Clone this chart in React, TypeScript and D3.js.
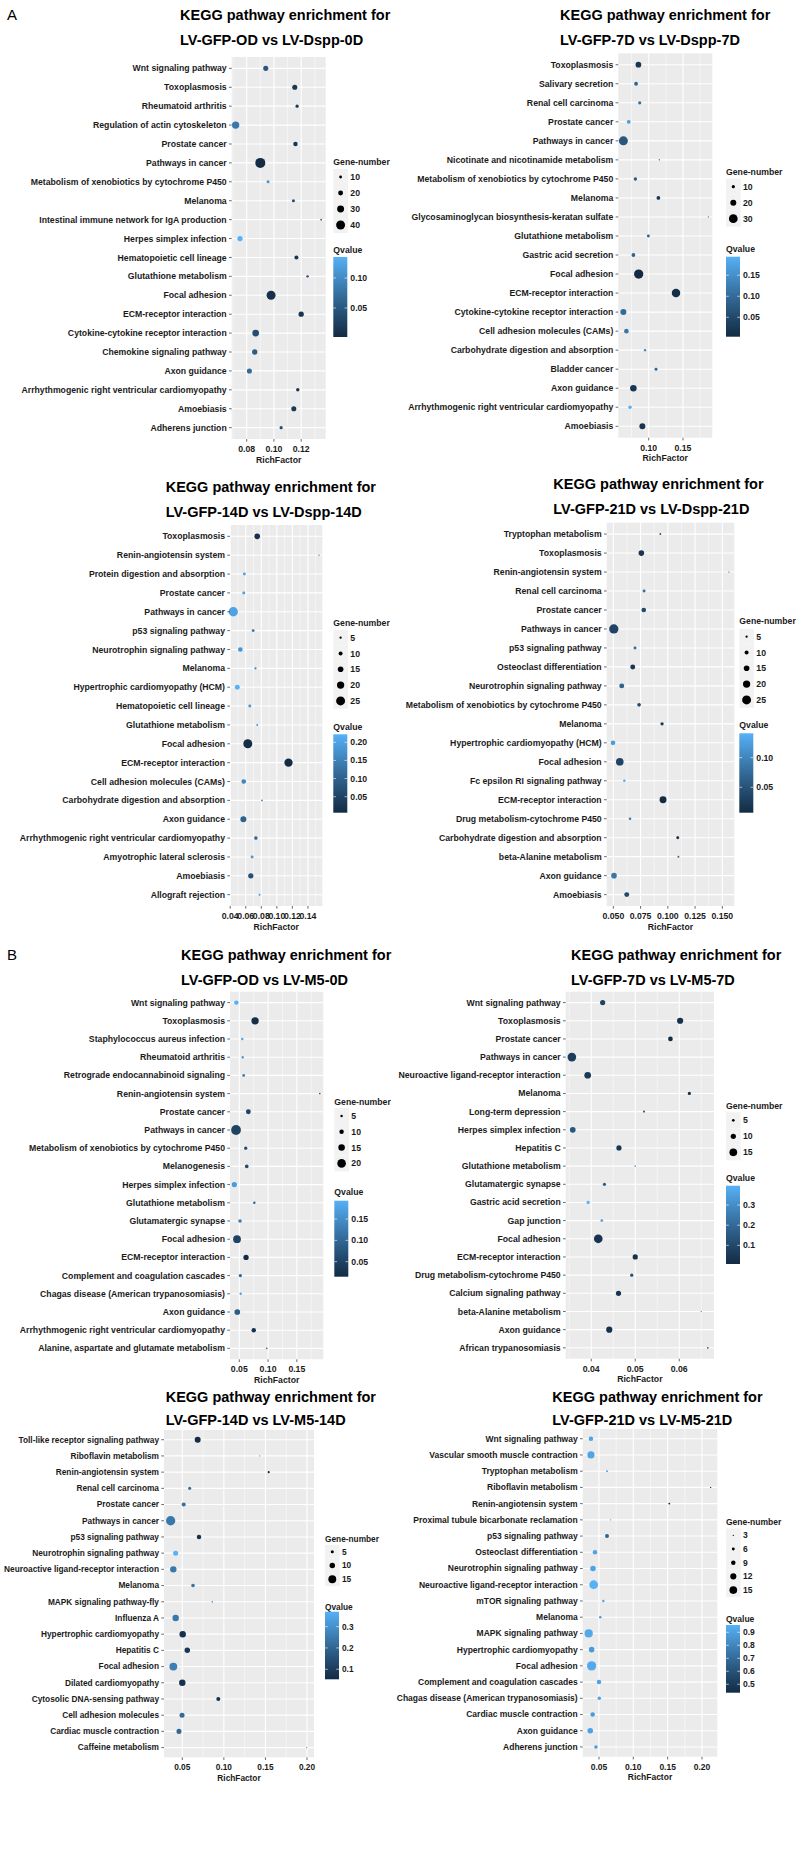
import React from "react";
import * as d3 from "d3";

// ---------- Panel 1: LV-GFP-OD vs LV-Dspp-0D ----------
const p1Title = ["KEGG pathway enrichment for", "LV-GFP-OD vs LV-Dspp-0D"];
const p1Pathways = ["Wnt signaling pathway","Toxoplasmosis","Rheumatoid arthritis","Regulation of actin cytoskeleton","Prostate cancer","Pathways in cancer","Metabolism of xenobiotics by cytochrome P450","Melanoma","Intestinal immune network for IgA production","Herpes simplex infection","Hematopoietic cell lineage","Glutathione metabolism","Focal adhesion","ECM-receptor interaction","Cytokine-cytokine receptor interaction","Chemokine signaling pathway","Axon guidance","Arrhythmogenic right ventricular cardiomyopathy","Amoebiasis","Adherens junction"];
const p1Rich = [0.094,0.1153,0.117,0.0719,0.1158,0.090,0.0957,0.1143,0.1347,0.0751,0.1165,0.1247,0.0979,0.12,0.0866,0.0859,0.082,0.1175,0.1146,0.1053];
const p1Genes = [21,21,12,32,18,45,11,11,5,22,16,8,40,22,29,22,21,13,21,12];
const p1Q = [0.048,0.015,0.015,0.082,0.015,0.0017,0.108,0.04,0.055,0.135,0.015,0.04,0.008,0.012,0.04,0.055,0.068,0.015,0.017,0.04];
const p1Ticks = [0.08, 0.10, 0.12];
const p1SizeBreaks = [10, 20, 30, 40];
const p1QBreaks = [0.05, 0.10];

// ---------- Panel 2: LV-GFP-7D vs LV-Dspp-7D ----------
const p2Title = ["KEGG pathway enrichment for", "LV-GFP-7D vs LV-Dspp-7D"];
const p2Pathways = ["Toxoplasmosis","Salivary secretion","Renal cell carcinoma","Prostate cancer","Pathways in cancer","Nicotinate and nicotinamide metabolism","Metabolism of xenobiotics by cytochrome P450","Melanoma","Glycosaminoglycan biosynthesis-keratan sulfate","Glutathione metabolism","Gastric acid secretion","Focal adhesion","ECM-receptor interaction","Cytokine-cytokine receptor interaction","Cell adhesion molecules (CAMs)","Carbohydrate digestion and absorption","Bladder cancer","Axon guidance","Arrhythmogenic right ventricular cardiomyopathy","Amoebiasis"];
const p2Rich = [0.085,0.0816,0.0869,0.0709,0.0631,0.1155,0.0806,0.1141,0.187,0.0995,0.0777,0.0854,0.1398,0.0631,0.0675,0.0947,0.1107,0.0777,0.0728,0.0908];
const p2Genes = [19,12,10,12,31,4,11,12,3,9,12,32,29,20,15,7,9,22,11,20];
const p2Q = [0.023,0.09,0.108,0.165,0.07,0.146,0.08,0.023,0.118,0.09,0.09,0.0038,0.008,0.099,0.118,0.137,0.09,0.023,0.194,0.019];
const p2Ticks = [0.10, 0.15];
const p2SizeBreaks = [10, 20, 30];
const p2QBreaks = [0.05, 0.10, 0.15];

// ---------- Panel 3: LV-GFP-14D vs LV-Dspp-14D ----------
const p3Title = ["KEGG pathway enrichment for", "LV-GFP-14D vs LV-Dspp-14D"];
const p3Pathways = ["Toxoplasmosis","Renin-angiotensin system","Protein digestion and absorption","Prostate cancer","Pathways in cancer","p53 signaling pathway","Neurotrophin signaling pathway","Melanoma","Hypertrophic cardiomyopathy (HCM)","Hematopoietic cell lineage","Glutathione metabolism","Focal adhesion","ECM-receptor interaction","Cell adhesion molecules (CAMs)","Carbohydrate digestion and absorption","Axon guidance","Arrhythmogenic right ventricular cardiomyopathy","Amyotrophic lateral sclerosis","Amoebiasis","Allograft rejection"];
const p3Rich = [0.0747,0.1543,0.0582,0.0574,0.0439,0.0695,0.053,0.0725,0.0491,0.0652,0.0747,0.0626,0.115,0.0574,0.0808,0.0569,0.073,0.0682,0.0665,0.0777];
const p3Genes = [15,2,7,7,26,7,12,5,13,7,4,25,23,12,4,16,9,7,14,4];
const p3Q = [0.016,0.135,0.2,0.2,0.2,0.135,0.18,0.157,0.222,0.18,0.19,0.01,0.0058,0.157,0.18,0.1,0.11,0.19,0.07,0.18];
const p3Ticks = [0.04, 0.06, 0.08, 0.10, 0.12, 0.14];
const p3SizeBreaks = [5, 10, 15, 20, 25];
const p3QBreaks = [0.05, 0.10, 0.15, 0.20];

// ---------- Panel 4: LV-GFP-21D vs LV-Dspp-21D ----------
const p4Title = ["KEGG pathway enrichment for", "LV-GFP-21D vs LV-Dspp-21D"];
const p4Pathways = ["Tryptophan metabolism","Toxoplasmosis","Renin-angiotensin system","Renal cell carcinoma","Prostate cancer","Pathways in cancer","p53 signaling pathway","Osteoclast differentiation","Neurotrophin signaling pathway","Metabolism of xenobiotics by cytochrome P450","Melanoma","Hypertrophic cardiomyopathy (HCM)","Focal adhesion","Fc epsilon RI signaling pathway","ECM-receptor interaction","Drug metabolism-cytochrome P450","Carbohydrate digestion and absorption","beta-Alanine metabolism","Axon guidance","Amoebiasis"];
const p4Rich = [0.0931,0.0757,0.1561,0.0782,0.0779,0.0504,0.0699,0.0678,0.0577,0.0736,0.0947,0.0497,0.0559,0.0601,0.0956,0.0653,0.1091,0.1097,0.0506,0.0623];
const p4Genes = [4,15,2,7,12,26,7,13,13,9,8,12,21,6,19,6,7,4,15,13];
const p4Q = [0.06,0.02,0.074,0.08,0.04,0.034,0.074,0.02,0.067,0.04,0.02,0.121,0.034,0.141,0.0071,0.094,0.014,0.067,0.087,0.04];
const p4Ticks = [0.05, 0.075, 0.1, 0.125, 0.15];
const p4SizeBreaks = [5, 10, 15, 20, 25];
const p4QBreaks = [0.05, 0.10];

// ---------- Panel 5: LV-GFP-OD vs LV-M5-0D ----------
const p5Title = ["KEGG pathway enrichment for", "LV-GFP-OD vs LV-M5-0D"];
const p5Pathways = ["Wnt signaling pathway","Toxoplasmosis","Staphylococcus aureus infection","Rheumatoid arthritis","Retrograde endocannabinoid signaling","Renin-angiotensin system","Prostate cancer","Pathways in cancer","Metabolism of xenobiotics by cytochrome P450","Melanogenesis","Herpes simplex infection","Glutathione metabolism","Glutamatergic synapse","Focal adhesion","ECM-receptor interaction","Complement and coagulation cascades","Chagas disease (American trypanosomiasis)","Axon guidance","Arrhythmogenic right ventricular cardiomyopathy","Alanine, aspartate and glutamate metabolism"];
const p5Rich = [0.0448,0.0774,0.0552,0.0559,0.0576,0.190,0.0657,0.0443,0.0611,0.0629,0.0413,0.0761,0.0512,0.046,0.0617,0.0518,0.0524,0.0465,0.0751,0.0977];
const p5Genes = [10,17,5,5,6,3,11,23,7,8,12,5,8,18,12,7,5,13,10,3];
const p5Q = [0.193,0.02,0.175,0.166,0.13,0.05,0.05,0.05,0.06,0.06,0.166,0.086,0.13,0.05,0.0148,0.095,0.175,0.086,0.024,0.095];
const p5Ticks = [0.05, 0.10, 0.15];
const p5SizeBreaks = [5, 10, 15, 20];
const p5QBreaks = [0.05, 0.10, 0.15];

// ---------- Panel 6: LV-GFP-7D vs LV-M5-7D ----------
const p6Title = ["KEGG pathway enrichment for", "LV-GFP-7D vs LV-M5-7D"];
const p6Pathways = ["Wnt signaling pathway","Toxoplasmosis","Prostate cancer","Pathways in cancer","Neuroactive ligand-receptor interaction","Melanoma","Long-term depression","Herpes simplex infection","Hepatitis C","Glutathione metabolism","Glutamatergic synapse","Gastric acid secretion","Gap junction","Focal adhesion","ECM-receptor interaction","Drug metabolism-cytochrome P450","Calcium signaling pathway","beta-Alanine metabolism","Axon guidance","African trypanosomiasis"];
const p6Rich = [0.0426,0.0602,0.058,0.0356,0.0392,0.0623,0.052,0.0358,0.0463,0.05,0.043,0.0393,0.0424,0.0416,0.05,0.0492,0.0462,0.065,0.0441,0.0665];
const p6Genes = [10,12,9,17,13,6,4,11,10,3,6,6,5,17,10,6,10,2,12,3];
const p6Q = [0.085,0.027,0.0074,0.066,0.054,0.027,0.18,0.143,0.046,0.357,0.163,0.396,0.357,0.038,0.027,0.124,0.038,0.28,0.027,0.143];
const p6Ticks = [0.04, 0.05, 0.06];
const p6SizeBreaks = [5, 10, 15];
const p6QBreaks = [0.1, 0.2, 0.3];

// ---------- Panel 7: LV-GFP-14D vs LV-M5-14D ----------
const p7Title = ["KEGG pathway enrichment for", "LV-GFP-14D vs LV-M5-14D"];
const p7Pathways = ["Toll-like receptor signaling pathway","Riboflavin metabolism","Renin-angiotensin system","Renal cell carcinoma","Prostate cancer","Pathways in cancer","p53 signaling pathway","Neurotrophin signaling pathway","Neuroactive ligand-receptor interaction","Melanoma","MAPK signaling pathway-fly","Influenza A","Hypertrophic cardiomyopathy","Hepatitis C","Focal adhesion","Dilated cardiomyopathy","Cytosolic DNA-sensing pathway","Cell adhesion molecules","Cardiac muscle contraction","Caffeine metabolism"];
const p7Rich = [0.0685,0.1431,0.1539,0.0589,0.0517,0.036,0.0701,0.042,0.0392,0.0629,0.0861,0.042,0.0505,0.056,0.0392,0.05,0.0933,0.0497,0.046,0.1996];
const p7Genes = [11,1,3,5,7,18,8,9,12,6,2,12,12,10,15,12,7,9,9,1];
const p7Q = [0.053,0.307,0.055,0.227,0.227,0.243,0.069,0.37,0.243,0.227,0.307,0.243,0.069,0.085,0.259,0.069,0.069,0.21,0.21,0.243];
const p7Ticks = [0.05, 0.10, 0.15, 0.20];
const p7SizeBreaks = [5, 10, 15];
const p7QBreaks = [0.1, 0.2, 0.3];

// ---------- Panel 8: LV-GFP-21D vs LV-M5-21D ----------
const p8Title = ["KEGG pathway enrichment for", "LV-GFP-21D vs LV-M5-21D"];
const p8Pathways = ["Wnt signaling pathway","Vascular smooth muscle contraction","Tryptophan metabolism","Riboflavin metabolism","Renin-angiotensin system","Proximal tubule bicarbonate reclamation","p53 signaling pathway","Osteoclast differentiation","Neurotrophin signaling pathway","Neuroactive ligand-receptor interaction","mTOR signaling pathway","Melanoma","MAPK signaling pathway","Hypertrophic cardiomyopathy","Focal adhesion","Complement and coagulation cascades","Chagas disease (American trypanosomiasis)","Cardiac muscle contraction","Axon guidance","Adherens junction"];
const p8Rich = [0.0383,0.0383,0.0617,0.2126,0.1524,0.067,0.0617,0.0442,0.0413,0.0423,0.0563,0.0519,0.035,0.0393,0.0393,0.05,0.0505,0.0408,0.0373,0.0456];
const p8Genes = [9,14,4,3,4,3,8,9,11,17,5,5,16,11,18,9,7,9,11,7];
const p8Q = [0.904,0.914,0.878,0.461,0.435,0.878,0.67,0.904,0.904,0.956,0.904,0.852,0.93,0.878,0.93,0.904,0.904,0.878,0.904,0.878];
const p8Ticks = [0.05, 0.10, 0.15, 0.20];
const p8SizeBreaks = [3, 6, 9, 12, 15];
const p8QBreaks = [0.5, 0.6, 0.7, 0.8, 0.9];

const panelData = [
  { title: p1Title, pathways: p1Pathways, rich: p1Rich, genes: p1Genes, q: p1Q, ticks: p1Ticks, sizeBreaks: p1SizeBreaks, qBreaks: p1QBreaks },
  { title: p2Title, pathways: p2Pathways, rich: p2Rich, genes: p2Genes, q: p2Q, ticks: p2Ticks, sizeBreaks: p2SizeBreaks, qBreaks: p2QBreaks },
  { title: p3Title, pathways: p3Pathways, rich: p3Rich, genes: p3Genes, q: p3Q, ticks: p3Ticks, sizeBreaks: p3SizeBreaks, qBreaks: p3QBreaks },
  { title: p4Title, pathways: p4Pathways, rich: p4Rich, genes: p4Genes, q: p4Q, ticks: p4Ticks, sizeBreaks: p4SizeBreaks, qBreaks: p4QBreaks },
  { title: p5Title, pathways: p5Pathways, rich: p5Rich, genes: p5Genes, q: p5Q, ticks: p5Ticks, sizeBreaks: p5SizeBreaks, qBreaks: p5QBreaks },
  { title: p6Title, pathways: p6Pathways, rich: p6Rich, genes: p6Genes, q: p6Q, ticks: p6Ticks, sizeBreaks: p6SizeBreaks, qBreaks: p6QBreaks },
  { title: p7Title, pathways: p7Pathways, rich: p7Rich, genes: p7Genes, q: p7Q, ticks: p7Ticks, sizeBreaks: p7SizeBreaks, qBreaks: p7QBreaks },
  { title: p8Title, pathways: p8Pathways, rich: p8Rich, genes: p8Genes, q: p8Q, ticks: p8Ticks, sizeBreaks: p8SizeBreaks, qBreaks: p8QBreaks },
];

// ---------- layout (positions / styles) ----------
const layouts = [
  { left: 231.7, right: 325.7, top: 57, bottom: 439, xDom: [0.069, 0.138], titleX: 180, titleY: [19.5, 45], legX: 333.3, gTitleY: 162, keyY0: 177, keyStep: 16, qTitleY: 250, barTop: 257, barBottom: 337, dRange: [1.8, 10], font: 8.7, tickFmt: ".2f", qFmt: ".2f" },
  { left: 618.3, right: 712.3, top: 53.3, bottom: 437.7, xDom: [0.0557, 0.1927], titleX: 560, titleY: [19.5, 45], legX: 726, gTitleY: 172, keyY0: 186.7, keyStep: 16, qTitleY: 249, barTop: 256.7, barBottom: 336.7, dRange: [1.3, 9.3], font: 8.7, tickFmt: ".2f", qFmt: ".2f" },
  { left: 230, right: 322.3, top: 525, bottom: 906, xDom: [0.0397, 0.1585], titleX: 165.7, titleY: [492, 517], legX: 333.3, gTitleY: 622.7, keyY0: 637.7, keyStep: 15.8, qTitleY: 726.7, barTop: 734.3, barBottom: 812.7, dRange: [1.3, 9.3], font: 8.7, tickFmt: ".2f", qFmt: ".2f" },
  { left: 606.7, right: 734.3, top: 522.7, bottom: 906, xDom: [0.0439, 0.161], titleX: 553.3, titleY: [489, 514], legX: 739.3, gTitleY: 621, keyY0: 636.7, keyStep: 15.8, qTitleY: 725, barTop: 733.3, barBottom: 812.7, dRange: [1.3, 9.3], font: 8.7, tickFmt: ".3f", qFmt: ".2f" },
  { left: 230, right: 323.3, top: 991.7, bottom: 1359.3, xDom: [0.0338, 0.196], titleX: 181, titleY: [960, 985], legX: 334.3, gTitleY: 1101.7, keyY0: 1116, keyStep: 15.8, qTitleY: 1192.3, barTop: 1200.7, barBottom: 1276.7, dRange: [1.6, 9.8], font: 8.7, tickFmt: ".2f", qFmt: ".2f" },
  { left: 565.7, right: 714, top: 991.7, bottom: 1358.7, xDom: [0.0342, 0.0679], titleX: 571, titleY: [960, 985], legX: 726, gTitleY: 1105.7, keyY0: 1120.3, keyStep: 16, qTitleY: 1177.7, barTop: 1185.7, barBottom: 1264, dRange: [1.2, 8.7], font: 8.7, tickFmt: ".2f", qFmt: ".1f" },
  { left: 164, right: 314, top: 1430, bottom: 1757.3, xDom: [0.028, 0.2084], titleX: 165.7, titleY: [1402, 1425], legX: 325, gTitleY: 1539.3, keyY0: 1551.7, keyStep: 13.8, qTitleY: 1606.7, barTop: 1611.7, barBottom: 1679.3, dRange: [1.2, 9.3], font: 8.3, tickFmt: ".2f", qFmt: ".1f" },
  { left: 582.7, right: 717.3, top: 1429, bottom: 1756.7, xDom: [0.0263, 0.2223], titleX: 552.3, titleY: [1402, 1425], legX: 726, gTitleY: 1522.3, keyY0: 1535.3, keyStep: 13.7, qTitleY: 1618.7, barTop: 1625, barBottom: 1692.7, dRange: [1.3, 9.3], font: 8.5, tickFmt: ".2f", qFmt: ".1f" },
];

const FONT = "'Liberation Sans', Arial, Helvetica, sans-serif";
const TEXT = "#1a1a1a";

function Panel({ d, L, idx }: { d: any; L: any; idx: number }) {
  const x = d3.scaleLinear().domain(L.xDom).range([L.left, L.right]);
  const y = d3.scalePoint<string>().domain(d.pathways).range([L.top, L.bottom]).padding(0.6);
  const qExt = d3.extent(d.q as number[]) as [number, number];
  const gExt = d3.extent(d.genes as number[]) as [number, number];
  const color = d3.scaleLinear<string>().domain(qExt).range(["#132B43", "#56B1F7"]).interpolate(d3.interpolateLab);
  const size = d3.scaleLinear().domain(gExt).range(L.dRange);
  const qy = d3.scaleLinear().domain(qExt).range([L.barBottom, L.barTop]);
  const fmt = d3.format(L.tickFmt);
  const qfmt = d3.format(L.qFmt);
  const step = d.ticks[1] - d.ticks[0];
  const minor: number[] = [];
  for (let i = -1; i < d.ticks.length + 1; i++) {
    const v = d.ticks[0] + (i + 0.5) * step;
    if (v > L.xDom[0] && v < L.xDom[1]) minor.push(v);
  }
  const fs = L.font;
  const barW = 14;
  const gid = `qgrad${idx}`;
  return (
    <g>
      {/* title */}
      {d.title.map((t: string, i: number) => (
        <text key={i} x={L.titleX} y={L.titleY[i]} fontSize={14.5} fontWeight="bold" fill="#000" fontFamily={FONT}>{t}</text>
      ))}
      {/* panel */}
      <rect x={L.left} y={L.top} width={L.right - L.left} height={L.bottom - L.top} fill="#EBEBEB" />
      {minor.map((v, i) => (
        <line key={"mn" + i} x1={x(v)} x2={x(v)} y1={L.top} y2={L.bottom} stroke="#fff" strokeWidth={0.5} />
      ))}
      {d.ticks.map((v: number, i: number) => (
        <line key={"mj" + i} x1={x(v)} x2={x(v)} y1={L.top} y2={L.bottom} stroke="#fff" strokeWidth={1.1} />
      ))}
      {d.pathways.map((p: string, i: number) => (
        <line key={"hy" + i} x1={L.left} x2={L.right} y1={y(p)} y2={y(p)} stroke="#fff" strokeWidth={1.1} />
      ))}
      {/* points */}
      {d.pathways.map((p: string, i: number) => (
        <circle key={"pt" + i} cx={x(d.rich[i])} cy={y(p)} r={size(d.genes[i]) / 2} fill={color(d.q[i])} />
      ))}
      {/* y axis */}
      {d.pathways.map((p: string, i: number) => (
        <g key={"yl" + i}>
          <line x1={L.left - 2.7} x2={L.left} y1={y(p)} y2={y(p)} stroke="#444" strokeWidth={0.8} />
          <text x={L.left - 5} y={y(p)} dy="0.35em" textAnchor="end" fontSize={fs} fontWeight="bold" fill={TEXT} fontFamily={FONT}>{p}</text>
        </g>
      ))}
      {/* x axis */}
      {d.ticks.map((v: number, i: number) => (
        <g key={"xt" + i}>
          <line x1={x(v)} x2={x(v)} y1={L.bottom} y2={L.bottom + 2.7} stroke="#444" strokeWidth={0.8} />
          <text x={x(v)} y={L.bottom + 10} dy="0.35em" textAnchor="middle" fontSize={fs} fontWeight="bold" fill={TEXT} fontFamily={FONT}>{fmt(v)}</text>
        </g>
      ))}
      <text x={(L.left + L.right) / 2} y={L.bottom + 20.5} dy="0.35em" textAnchor="middle" fontSize={fs} fontWeight="bold" fill={TEXT} fontFamily={FONT}>RichFactor</text>
      {/* size legend */}
      <text x={L.legX} y={L.gTitleY} dy="0.35em" fontSize={fs} fontWeight="bold" fill={TEXT} fontFamily={FONT}>Gene-number</text>
      {d.sizeBreaks.map((g: number, i: number) => {
        const cy = L.keyY0 + i * L.keyStep;
        return (
          <g key={"sk" + i}>
            <rect x={L.legX} y={cy - L.keyStep / 2} width={barW + 0.7} height={L.keyStep} fill="#F2F2F2" />
            <circle cx={L.legX + 7.3} cy={cy} r={size(g) / 2} fill="#000" />
            <text x={L.legX + 17} y={cy} dy="0.35em" fontSize={fs} fontWeight="bold" fill={TEXT} fontFamily={FONT}>{g}</text>
          </g>
        );
      })}
      {/* colour legend */}
      <text x={L.legX} y={L.qTitleY} dy="0.35em" fontSize={fs} fontWeight="bold" fill={TEXT} fontFamily={FONT}>Qvalue</text>
      <defs>
        <linearGradient id={gid} x1="0" y1="1" x2="0" y2="0">
          {d3.range(0, 1.0001, 0.1).map((t, i) => (
            <stop key={i} offset={t} stopColor={color(qExt[0] + t * (qExt[1] - qExt[0]))} />
          ))}
        </linearGradient>
      </defs>
      <rect x={L.legX} y={L.barTop} width={barW} height={L.barBottom - L.barTop} fill={`url(#${gid})`} />
      {d.qBreaks.map((v: number, i: number) => (
        <g key={"qb" + i}>
          <line x1={L.legX} x2={L.legX + 2.8} y1={qy(v)} y2={qy(v)} stroke="#fff" strokeWidth={0.6} />
          <line x1={L.legX + barW - 2.8} x2={L.legX + barW} y1={qy(v)} y2={qy(v)} stroke="#fff" strokeWidth={0.6} />
          <text x={L.legX + barW + 3} y={qy(v)} dy="0.35em" fontSize={fs} fontWeight="bold" fill={TEXT} fontFamily={FONT}>{qfmt(v)}</text>
        </g>
      ))}
    </g>
  );
}

export default function App() {
  return (
    <div style={{ position: "absolute", left: 0, top: 0, background: "#fff" }}>
      <svg width={800} height={1869} viewBox="0 0 800 1869" style={{ display: "block", background: "#fff" }}>
        <rect x={0} y={0} width={800} height={1869} fill="#fff" />
        <text x={7} y={20} fontSize={15} fill="#000" fontFamily={FONT}>A</text>
        <text x={7} y={960} fontSize={15} fill="#000" fontFamily={FONT}>B</text>
        {panelData.map((d, i) => (
          <Panel key={i} d={d} L={layouts[i]} idx={i} />
        ))}
      </svg>
    </div>
  );
}
